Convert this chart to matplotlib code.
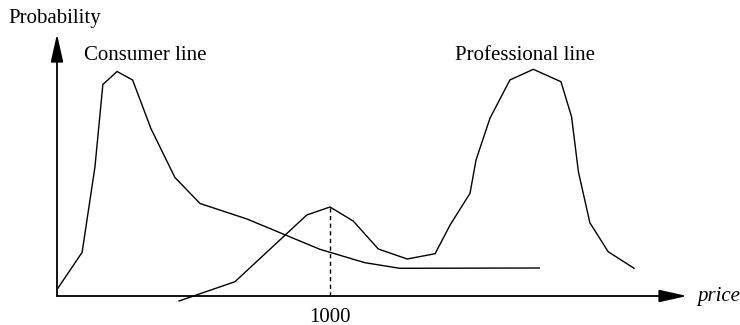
import matplotlib
matplotlib.use("Agg")
import matplotlib.pyplot as plt

# ---- data (price, relative probability) ----
consumer_price = [3, 92, 139, 168, 220, 277, 344, 432, 524, 696, 963, 1128, 1256, 1767]
consumer_prob = [7.7, 43.7, 129, 211.5, 224.5, 216, 167.5, 118.5, 92.5, 77, 46.7, 33.3, 27.7, 28]

pro_price = [447, 652, 915, 1000, 1085, 1177, 1283, 1385, 1440, 1513, 1535, 1586,
             1659, 1745, 1846, 1885, 1910, 1952, 2019, 2114]
pro_prob = [-5, 14.3, 81, 89, 75, 47, 37, 42.3, 71, 102.7, 136, 177.7,
            216, 226.7, 214.3, 179.3, 124.3, 73.3, 44.3, 27.7]

marker_price = 1000
marker_prob = 89
tick_label = "1000"

plt.rcParams['font.family'] = ['Liberation Serif', 'DejaVu Serif']

fig = plt.figure(figsize=(7.4, 3.25), dpi=100)
ax = fig.add_axes([0, 0, 1, 1])
ax.set_xlim(-208.8, 2502)
ax.set_ylim(-29, 296)
ax.axis('off')

ax.plot(consumer_price, consumer_prob, color='black', lw=1.0, solid_joinstyle='miter')
ax.plot(pro_price, pro_prob, color='black', lw=1.0, solid_joinstyle='miter')

# dashed marker at price 1000
ax.plot([marker_price, marker_price], [0, marker_prob], color='black', lw=1.0,
        ls=(0, (3, 2.5)))

# axes with arrows
arrow = dict(arrowstyle='-|>,head_length=1.7,head_width=0.38', lw=1.3,
             color='black', shrinkA=0, shrinkB=0, mutation_scale=10)
ax.annotate('', xy=(2308, 0), xytext=(0, 0), arrowprops=arrow)
ax.annotate('', xy=(0, 262), xytext=(0, 0), arrowprops=arrow)

ax.text(-179, 277, 'Probability', fontsize=15, ha='left', va='center')
ax.text(2345, 0, 'price', fontsize=15, style='italic', ha='left', va='center')
ax.text(marker_price, -21, tick_label, fontsize=15, ha='center', va='center')
ax.text(322, 240, 'Consumer line', fontsize=15, ha='center', va='center')
ax.text(1714, 240, 'Professional line', fontsize=15, ha='center', va='center')

fig.savefig('out.png', dpi=100)
